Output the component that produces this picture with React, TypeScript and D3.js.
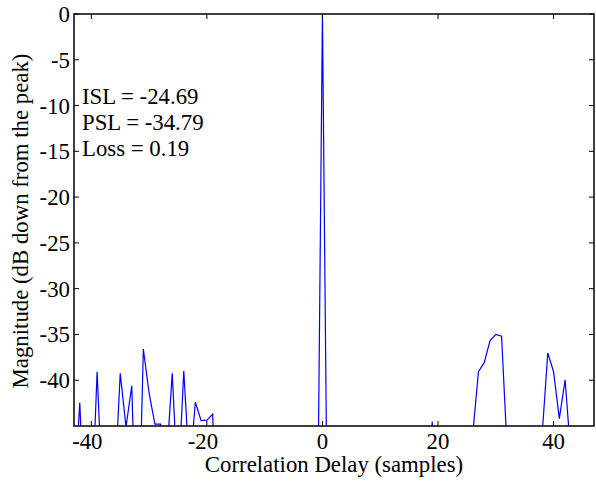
import React from "react";
import * as d3 from "d3";

const lags: number[] = d3.range(-43, 44);
// magnitude in dB, one value per lag (values below -45 fall outside the axis and are clipped)
const magnitude: number[] = [
  // -43 .. -34
  -53.5, -42.45, -57.5, -55.5, -39.07, -53.9, -58, -52.3, -39.25, -45.1,
  // -33 .. -24
  -40.6, -62, -36.6, -41.4, -44.8, -44.8, -49, -39.25, -52, -39.0,
  // -23 .. -18
  -50, -42.4, -44.4, -44.35, -43.7, -62,
  // -17 .. -2
  -60, -58, -61, -59, -62, -58, -60, -63, -59, -61, -58, -60, -64, -58, -61, -60,
  // -1, 0, 1
  -67, 0, -67,
  // 2 .. 18
  -60, -58, -62, -59, -61, -57, -60, -63, -58, -61, -59, -62, -58, -60, -62, -59, -61,
  // 19
  -44.5,
  // 20 .. 25
  -60, -58, -61, -59, -62, -57,
  // 26 .. 32
  -46, -39.07, -38.08, -35.7, -34.99, -35.2, -48,
  // 33 .. 37
  -58, -61, -59, -60, -57,
  // 38 .. 43
  -46.2, -37.02, -39.07, -44.2, -39.97, -48.3,
];

const xTicks: number[] = [-40, -20, 0, 20, 40];
const yTicks: number[] = [0, -5, -10, -15, -20, -25, -30, -35, -40];
const annotations: string[] = ["ISL = -24.69", "PSL = -34.79", "Loss = 0.19"];
const xLabel = "Correlation Delay (samples)";
const yLabel = "Magnitude (dB down from the peak)";

const W = 596;
const H = 483;
const L = 74;
const R = 594;
const T = 14;
const B = 426;
const FONT = "Liberation Serif, Times New Roman, serif";

export default function App() {
  const x = d3.scaleLinear().domain([-43, 47]).range([L, R]);
  const y = d3.scaleLinear().domain([-45, 0]).range([B, T]);
  const pts: [number, number][] = lags.map((l, i) => [l, magnitude[i]]);
  const line = d3
    .line<[number, number]>()
    .x((d) => x(d[0]))
    .y((d) => y(d[1]));
  const tk = 5;
  const ts = { fontFamily: FONT, fontSize: 22.8 };
  return (
    <svg
      width={W}
      height={H}
      style={{ position: "absolute", left: 0, top: 0, background: "#fff", fontFamily: FONT }}
    >
      <rect x={0} y={0} width={W} height={H} fill="#fff" />
      <defs>
        <clipPath id="plotclip">
          <rect x={L} y={T} width={R - L} height={B - T} />
        </clipPath>
      </defs>
      <path
        d={line(pts) || ""}
        fill="none"
        stroke="#0000ff"
        strokeWidth={1.2}
        clipPath="url(#plotclip)"
      />
      <rect x={L} y={T} width={R - L} height={B - T} fill="none" stroke="#000" strokeWidth={1.5} />
      {xTicks.map((t) => (
        <g key={"x" + t}>
          <line x1={x(t)} x2={x(t)} y1={B} y2={B - tk} stroke="#000" strokeWidth={1} />
          <line x1={x(t)} x2={x(t)} y1={T} y2={T + tk} stroke="#000" strokeWidth={1} />
          <text x={x(t) - (t < 0 ? 4 : 0)} y={449} style={ts} textAnchor="middle">
            {t}
          </text>
        </g>
      ))}
      {yTicks.map((t) => (
        <g key={"y" + t}>
          <line x1={L} x2={L + tk} y1={y(t)} y2={y(t)} stroke="#000" strokeWidth={1} />
          <line x1={R} x2={R - tk} y1={y(t)} y2={y(t)} stroke="#000" strokeWidth={1} />
          <text x={70} y={y(t)} dy="0.35em" style={ts} textAnchor="end">
            {t}
          </text>
        </g>
      ))}
      {annotations.map((a, i) => (
        <text key={a} x={82} y={103.5 + i * 26} style={ts}>
          {a}
        </text>
      ))}
      <text x={334} y={472} style={ts} textAnchor="middle">
        {xLabel}
      </text>
      <text
        transform={`translate(28, 221) rotate(-90)`}
        style={ts}
        textAnchor="middle"
      >
        {yLabel}
      </text>
    </svg>
  );
}
